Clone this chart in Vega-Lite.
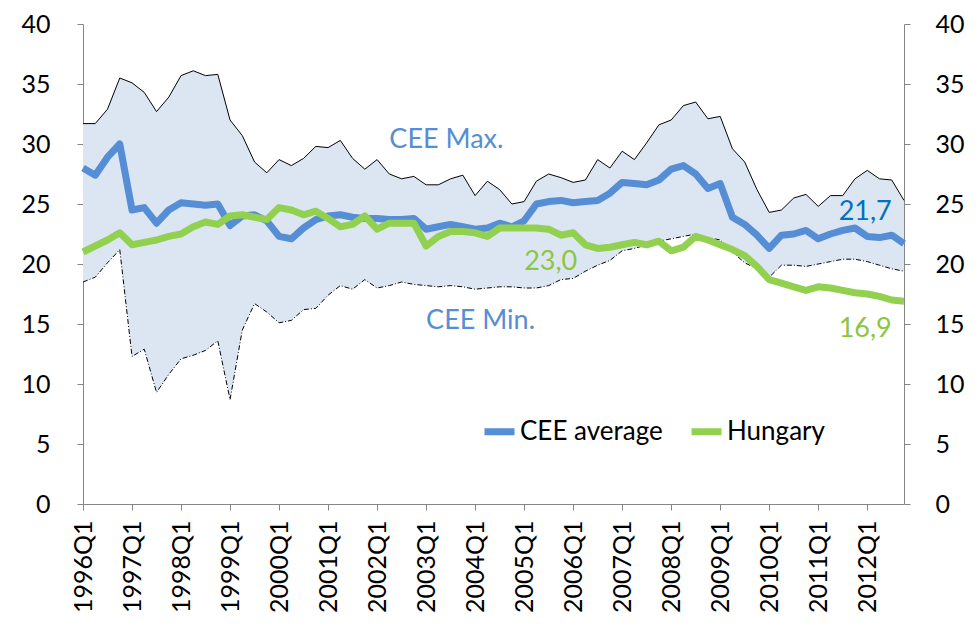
{
  "$schema": "https://vega.github.io/schema/vega-lite/v6.json",
  "width": 821,
  "height": 480,
  "autosize": {"type": "none"},
  "padding": {"left": 83, "top": 24, "right": 74, "bottom": 135},
  "background": "white",
  "config": {
    "view": {"stroke": null},
    "font": "Lato",
    "axis": {"labelFont": "Lato", "labelFontSize": 25, "labelColor": "black", "domainColor": "#868686", "tickColor": "#868686", "grid": false, "title": null, "tickSize": 6}
  },
  "datasets": {
    "d": [
      {"q": "1996Q1", "min": 18.5, "max": 31.7, "CEE average": 28.0, "Hungary": 21.0},
      {"q": "1996Q2", "min": 18.9, "max": 31.7, "CEE average": 27.4, "Hungary": 21.5},
      {"q": "1996Q3", "min": 20.1, "max": 32.9, "CEE average": 28.9, "Hungary": 22.0},
      {"q": "1996Q4", "min": 21.2, "max": 35.5, "CEE average": 30.0, "Hungary": 22.6},
      {"q": "1997Q1", "min": 12.3, "max": 35.1, "CEE average": 24.5, "Hungary": 21.6},
      {"q": "1997Q2", "min": 12.9, "max": 34.3, "CEE average": 24.7, "Hungary": 21.8},
      {"q": "1997Q3", "min": 9.3, "max": 32.7, "CEE average": 23.4, "Hungary": 22.0},
      {"q": "1997Q4", "min": 10.8, "max": 33.9, "CEE average": 24.5, "Hungary": 22.3},
      {"q": "1998Q1", "min": 12.1, "max": 35.7, "CEE average": 25.1, "Hungary": 22.5},
      {"q": "1998Q2", "min": 12.4, "max": 36.1, "CEE average": 25.0, "Hungary": 23.1},
      {"q": "1998Q3", "min": 12.8, "max": 35.7, "CEE average": 24.9, "Hungary": 23.5},
      {"q": "1998Q4", "min": 13.6, "max": 35.8, "CEE average": 25.0, "Hungary": 23.3},
      {"q": "1999Q1", "min": 8.7, "max": 32.0, "CEE average": 23.2, "Hungary": 24.0},
      {"q": "1999Q2", "min": 14.5, "max": 30.7, "CEE average": 24.0, "Hungary": 24.1},
      {"q": "1999Q3", "min": 16.7, "max": 28.5, "CEE average": 24.1, "Hungary": 23.9},
      {"q": "1999Q4", "min": 16.0, "max": 27.6, "CEE average": 23.6, "Hungary": 23.7},
      {"q": "2000Q1", "min": 15.1, "max": 28.7, "CEE average": 22.3, "Hungary": 24.7},
      {"q": "2000Q2", "min": 15.3, "max": 28.2, "CEE average": 22.1, "Hungary": 24.5},
      {"q": "2000Q3", "min": 16.2, "max": 28.8, "CEE average": 23.0, "Hungary": 24.1},
      {"q": "2000Q4", "min": 16.3, "max": 29.8, "CEE average": 23.7, "Hungary": 24.4},
      {"q": "2001Q1", "min": 17.4, "max": 29.7, "CEE average": 24.0, "Hungary": 23.8},
      {"q": "2001Q2", "min": 18.2, "max": 30.3, "CEE average": 24.1, "Hungary": 23.1},
      {"q": "2001Q3", "min": 17.9, "max": 28.8, "CEE average": 23.9, "Hungary": 23.3},
      {"q": "2001Q4", "min": 18.7, "max": 27.9, "CEE average": 23.8, "Hungary": 24.0},
      {"q": "2002Q1", "min": 18.0, "max": 28.7, "CEE average": 23.8, "Hungary": 22.9},
      {"q": "2002Q2", "min": 18.2, "max": 27.5, "CEE average": 23.7, "Hungary": 23.4},
      {"q": "2002Q3", "min": 18.5, "max": 27.1, "CEE average": 23.7, "Hungary": 23.4},
      {"q": "2002Q4", "min": 18.3, "max": 27.3, "CEE average": 23.8, "Hungary": 23.4},
      {"q": "2003Q1", "min": 18.2, "max": 26.6, "CEE average": 22.9, "Hungary": 21.5},
      {"q": "2003Q2", "min": 18.1, "max": 26.6, "CEE average": 23.1, "Hungary": 22.3},
      {"q": "2003Q3", "min": 18.2, "max": 27.1, "CEE average": 23.3, "Hungary": 22.7},
      {"q": "2003Q4", "min": 18.1, "max": 27.4, "CEE average": 23.1, "Hungary": 22.7},
      {"q": "2004Q1", "min": 17.9, "max": 25.7, "CEE average": 22.9, "Hungary": 22.6},
      {"q": "2004Q2", "min": 18.0, "max": 26.9, "CEE average": 23.0, "Hungary": 22.3},
      {"q": "2004Q3", "min": 18.1, "max": 26.2, "CEE average": 23.4, "Hungary": 23.0},
      {"q": "2004Q4", "min": 18.1, "max": 25.0, "CEE average": 23.1, "Hungary": 23.0},
      {"q": "2005Q1", "min": 18.0, "max": 25.2, "CEE average": 23.6, "Hungary": 23.0},
      {"q": "2005Q2", "min": 18.0, "max": 26.9, "CEE average": 25.0, "Hungary": 23.0},
      {"q": "2005Q3", "min": 18.2, "max": 27.5, "CEE average": 25.2, "Hungary": 22.9},
      {"q": "2005Q4", "min": 18.7, "max": 27.2, "CEE average": 25.3, "Hungary": 22.4},
      {"q": "2006Q1", "min": 18.8, "max": 26.8, "CEE average": 25.1, "Hungary": 22.6},
      {"q": "2006Q2", "min": 19.4, "max": 27.0, "CEE average": 25.2, "Hungary": 21.6},
      {"q": "2006Q3", "min": 19.9, "max": 28.7, "CEE average": 25.3, "Hungary": 21.3},
      {"q": "2006Q4", "min": 20.3, "max": 28.0, "CEE average": 25.9, "Hungary": 21.4},
      {"q": "2007Q1", "min": 21.1, "max": 29.4, "CEE average": 26.8, "Hungary": 21.6},
      {"q": "2007Q2", "min": 21.3, "max": 28.7, "CEE average": 26.7, "Hungary": 21.8},
      {"q": "2007Q3", "min": 21.6, "max": 30.1, "CEE average": 26.6, "Hungary": 21.6},
      {"q": "2007Q4", "min": 21.9, "max": 31.6, "CEE average": 27.0, "Hungary": 21.9},
      {"q": "2008Q1", "min": 22.1, "max": 32.0, "CEE average": 27.9, "Hungary": 21.1},
      {"q": "2008Q2", "min": 22.3, "max": 33.2, "CEE average": 28.2, "Hungary": 21.4},
      {"q": "2008Q3", "min": 22.5, "max": 33.5, "CEE average": 27.5, "Hungary": 22.3},
      {"q": "2008Q4", "min": 22.2, "max": 32.1, "CEE average": 26.3, "Hungary": 22.0},
      {"q": "2009Q1", "min": 22.0, "max": 32.3, "CEE average": 26.7, "Hungary": 21.6},
      {"q": "2009Q2", "min": 21.0, "max": 29.6, "CEE average": 23.9, "Hungary": 21.2},
      {"q": "2009Q3", "min": 20.1, "max": 28.5, "CEE average": 23.3, "Hungary": 20.7},
      {"q": "2009Q4", "min": 19.6, "max": 26.2, "CEE average": 22.4, "Hungary": 19.8},
      {"q": "2010Q1", "min": 18.9, "max": 24.3, "CEE average": 21.3, "Hungary": 18.7},
      {"q": "2010Q2", "min": 19.9, "max": 24.5, "CEE average": 22.4, "Hungary": 18.4},
      {"q": "2010Q3", "min": 19.9, "max": 25.5, "CEE average": 22.5, "Hungary": 18.1},
      {"q": "2010Q4", "min": 19.8, "max": 25.8, "CEE average": 22.8, "Hungary": 17.8},
      {"q": "2011Q1", "min": 20.0, "max": 24.8, "CEE average": 22.1, "Hungary": 18.1},
      {"q": "2011Q2", "min": 20.2, "max": 25.7, "CEE average": 22.5, "Hungary": 18.0},
      {"q": "2011Q3", "min": 20.4, "max": 25.7, "CEE average": 22.8, "Hungary": 17.8},
      {"q": "2011Q4", "min": 20.4, "max": 27.1, "CEE average": 23.0, "Hungary": 17.6},
      {"q": "2012Q1", "min": 20.2, "max": 27.8, "CEE average": 22.3, "Hungary": 17.5},
      {"q": "2012Q2", "min": 19.9, "max": 27.1, "CEE average": 22.2, "Hungary": 17.3},
      {"q": "2012Q3", "min": 19.6, "max": 27.0, "CEE average": 22.4, "Hungary": 17.0},
      {"q": "2012Q4", "min": 19.4, "max": 25.3, "CEE average": 21.7, "Hungary": 16.9}
    ],
    "labelsLeft": [
      {"q": "2002Q2", "v": 30.3, "t": "CEE Max."},
      {"q": "2003Q1", "v": 15.25, "t": "CEE Min."},
      {"q": "2005Q1", "v": 20.2, "t": "23,0"}
    ],
    "labelsRight": [
      {"q": "2012Q3", "v": 24.3, "t": "21,7"},
      {"q": "2012Q3", "v": 14.6, "t": "16,9"}
    ]
  },
  "encoding": {
    "x": {
      "field": "q",
      "type": "ordinal",
      "scale": {"type": "point", "padding": 0},
      "axis": {
        "values": ["1996Q1", "1997Q1", "1998Q1", "1999Q1", "2000Q1", "2001Q1", "2002Q1", "2003Q1", "2004Q1", "2005Q1", "2006Q1", "2007Q1", "2008Q1", "2009Q1", "2010Q1", "2011Q1", "2012Q1"],
        "labelAngle": -90,
        "labelPadding": 10,
        "title": null
      }
    }
  },
  "layer": [
    {
      "layer": [
        {
          "data": {"name": "d"},
          "mark": {"type": "area", "color": "#DCE6F2", "opacity": 1},
          "encoding": {
            "y": {"field": "min", "type": "quantitative", "scale": {"domain": [0, 40], "nice": false}, "axis": {"orient": "left", "values": [0, 5, 10, 15, 20, 25, 30, 35, 40], "labelPadding": 27}},
            "y2": {"field": "max"}
          }
        },
        {
          "data": {"name": "d"},
          "mark": {"type": "line", "color": "black", "strokeWidth": 1},
          "encoding": {"y": {"field": "max", "type": "quantitative"}}
        },
        {
          "data": {"name": "d"},
          "mark": {"type": "line", "color": "black", "strokeWidth": 1, "strokeDash": [5, 2, 1, 2]},
          "encoding": {"y": {"field": "min", "type": "quantitative"}}
        },
        {
          "data": {"name": "labelsLeft"},
          "mark": {"type": "text", "align": "left", "baseline": "middle", "fontSize": 27, "font": "Lato"},
          "encoding": {
            "y": {"field": "v", "type": "quantitative"},
            "text": {"field": "t", "type": "nominal"},
            "color": {"field": "t", "type": "nominal", "scale": {"domain": ["CEE Max.", "CEE Min.", "23,0", "21,7", "16,9"], "range": ["#558ED5", "#558ED5", "#8CC63E", "#0070C0", "#8CC63E"]}, "legend": null}
          }
        },
        {
          "data": {"name": "labelsRight"},
          "mark": {"type": "text", "align": "right", "baseline": "middle", "fontSize": 27, "font": "Lato"},
          "encoding": {
            "y": {"field": "v", "type": "quantitative"},
            "text": {"field": "t", "type": "nominal"},
            "color": {"field": "t", "type": "nominal", "scale": {"domain": ["CEE Max.", "CEE Min.", "23,0", "21,7", "16,9"], "range": ["#558ED5", "#558ED5", "#8CC63E", "#0070C0", "#8CC63E"]}, "legend": null}
          }
        }
      ]
    },
    {
      "data": {"name": "d"},
      "transform": [{"fold": ["CEE average", "Hungary"], "as": ["series", "value"]}],
      "mark": {"type": "line", "strokeWidth": 7, "strokeJoin": "round"},
      "encoding": {
        "y": {"field": "value", "type": "quantitative", "scale": {"domain": [0, 40], "nice": false}, "axis": {"orient": "right", "values": [0, 5, 10, 15, 20, 25, 30, 35, 40], "labelPadding": 25}},
        "color": {
          "field": "series",
          "type": "nominal",
          "scale": {"domain": ["CEE average", "Hungary"], "range": ["#558ED5", "#92D050"]},
          "legend": {
            "orient": "none",
            "legendX": 398,
            "legendY": 389,
            "direction": "horizontal",
            "title": null,
            "symbolType": "stroke",
            "symbolStrokeWidth": 7,
            "symbolSize": 900,
            "labelFontSize": 26,
            "labelFont": "Lato",
            "labelColor": "black",
            "columnPadding": 14,
            "labelOffset": 2
          }
        }
      }
    }
  ],
  "resolve": {"scale": {"y": "independent", "color": "independent"}}
}
